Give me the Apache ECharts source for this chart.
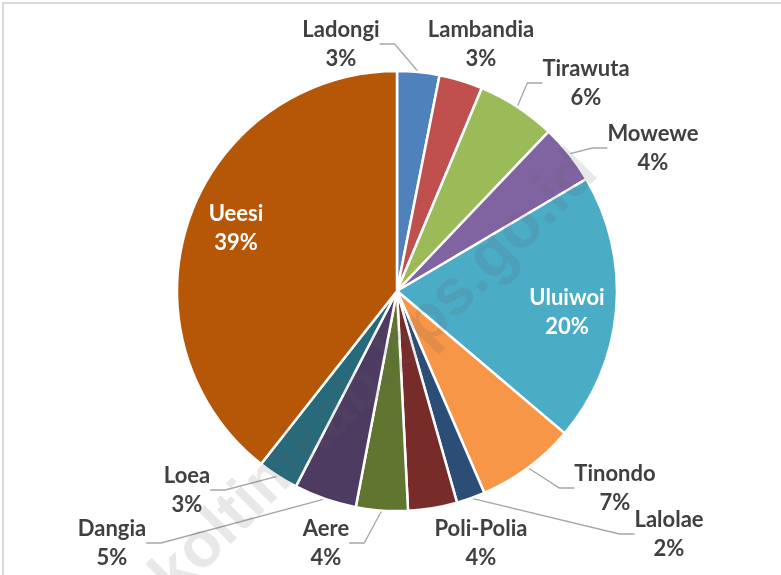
<!DOCTYPE html>
<html>
<head>
<meta charset="utf-8">
<script src="https://cdn.jsdelivr.net/npm/echarts@6/dist/echarts.min.js"></script>
<style>
  html, body { margin: 0; padding: 0; background: #fff; }
  #chart { width: 781px; height: 575px; }
</style>
</head>
<body>
<div id="chart"></div>
<script>
// kecamatan, clockwise from 12 o'clock
const districts = ["Ladongi", "Lambandia", "Tirawuta", "Mowewe", "Uluiwoi", "Tinondo",
  "Lalolae", "Poli-Polia", "Aere", "Dangia", "Loea", "Ueesi"];
// share in percent
const shares = [3.1, 3.2, 5.8, 4.4, 19.7, 7.3, 2.1, 3.6, 3.8, 4.6, 3.0, 39.4];
const colors = ["#4f81bd", "#c0504d", "#9bbb59", "#8064a2", "#4bacc6", "#f79646",
  "#2c4d75", "#772c2a", "#5f7530", "#4d3b62", "#276a7c", "#b65708"];
// slices whose label sits inside
const insideLabels = ["Uluiwoi", "Ueesi"];
// slices with no leader line
const noLine = ["Lambandia", "Poli-Polia"];
// label block centres (placement only)
const labelPos = [[341, 44], [481, 44], [586, 83], [653, 148], [567, 312], [615, 488],
  [669, 534], [481, 543], [326, 543], [112, 543], [187, 490], [236, 228]];

const chart = echarts.init(document.getElementById("chart"));

const pieData = districts.map((name, i) => {
  const item = {
    name: name,
    value: shares[i],
    itemStyle: { color: colors[i] },
  };
  if (insideLabels.includes(name)) {
    item.label = { position: "inside", color: "#ffffff" };
  }
  if (noLine.includes(name)) {
    item.labelLine = { show: false };
  }
  return item;
});

chart.setOption({
  animation: false,
  backgroundColor: "#ffffff",
  graphic: [
    {
      type: "rect",
      shape: { x: 3, y: 3, width: 820, height: 620 },
      style: { fill: "none", stroke: "#d9d9d9", lineWidth: 2 },
      silent: true,
    },
    {
      type: "text",
      x: 375,
      y: 375,
      rotation: Math.PI / 4,
      z: 100,
      silent: true,
      style: {
        text: "koltimkab.bps.go.id",
        font: "bold 64px 'Liberation Sans', Arial, sans-serif",
        fill: "rgba(90,90,90,0.14)",
        align: "center",
        verticalAlign: "middle",
      },
    },
  ],
  series: [
    {
      type: "pie",
      center: [397, 291],
      radius: [0, 220],
      startAngle: 90,
      clockwise: true,
      percentPrecision: 0,
      itemStyle: { borderColor: "#ffffff", borderWidth: 2.5 },
      label: {
        show: true,
        position: "outside",
        formatter: "{b}\n{d}%",
        fontFamily: "Lato, 'Open Sans', sans-serif",
        fontWeight: "bold",
        fontSize: 22,
        lineHeight: 29,
        color: "#404040",
        align: "center",
      },
      labelLine: {
        show: true,
        length: 15,
        length2: 15,
        lineStyle: { color: "#a6a6a6", width: 1.3 },
      },
      labelLayout: function (params) {
        const p = labelPos[params.dataIndex];
        return { x: p[0], y: p[1], align: "center", verticalAlign: "middle" };
      },
      data: pieData,
    },
  ],
});
</script>
</body>
</html>
